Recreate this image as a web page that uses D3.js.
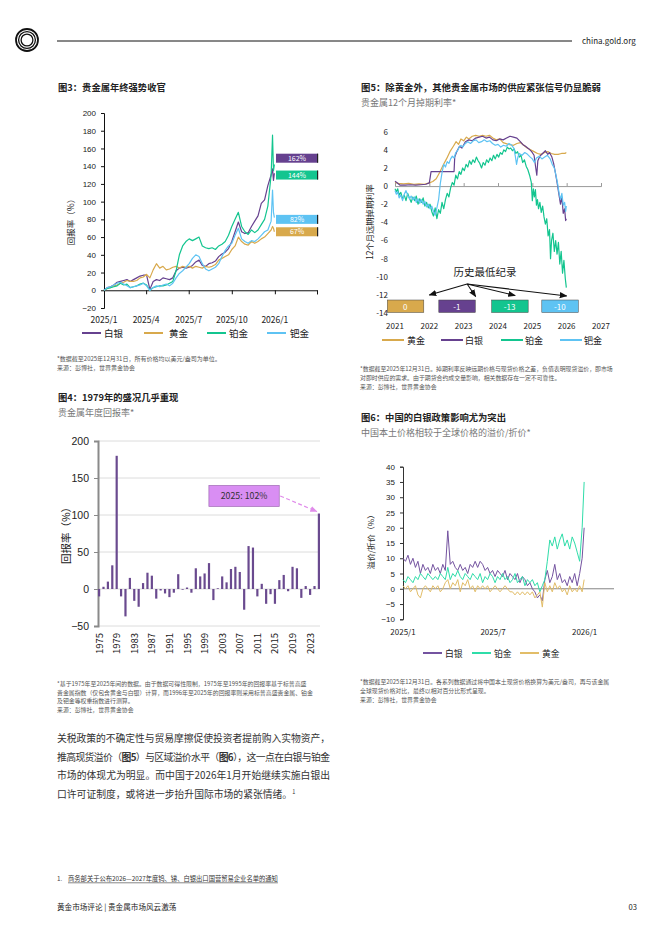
<!DOCTYPE html>
<html><head><meta charset="utf-8">
<script src="https://cdn.jsdelivr.net/npm/d3@7"></script>
<style>body{margin:0;background:#fff}svg{display:block;font-family:"Noto Sans CJK SC","Noto Sans",sans-serif}</style>
</head><body>
<svg id="page" width="662" height="936"></svg>
<script>
// ---------------- DATA ----------------
// Fig3: YTD returns (%), day offsets from 2025-01-01
const f3Days = [0,7,14,21,28,35,42,49,56,63,70,77,84,91,98,105,112,119,126,133,140,147,154,161,168,175,182,189,196,203,210,217,224,231,238,245,252,259,266,273,280,287,294,301,308,315,322,329,336,343,350,357,360,362,364];
const f3Silver = [0,3,4,6,9,10,11,12,10,12,14,16,17,17,1,10,12,11,14,13,12,14,22,25,26,25,26,28,32,34,28,27,30,31,33,38,41,43,47,55,66,77,66,64,65,72,78,84,98,102,118,130,137,124,132];
const f3Gold = [0,2,3,5,6,8,9,11,10,10,11,14,15,18,14,23,30,25,27,23,24,26,27,25,27,26,27,25,27,26,25,27,26,27,29,34,36,38,40,46,50,60,55,52,51,55,53,55,58,60,64,68,72,70,66];
const f3Plat = [0,2,3,4,5,8,6,7,3,4,5,7,8,6,0,3,4,5,5,6,8,10,22,40,50,55,58,56,58,60,50,48,47,48,46,50,52,55,62,72,80,88,72,66,63,68,65,68,74,80,95,130,175,135,142];
const f3Pall = [0,3,4,6,8,9,7,5,3,4,5,6,8,5,0,3,5,4,6,7,5,8,14,19,22,26,30,36,40,38,30,24,22,24,26,30,38,45,50,53,62,70,58,55,53,56,55,58,62,66,68,78,113,88,82];
const f3Names = ["白银","黄金","铂金","钯金"];
const f3XTicks = ["2025/1","2025/4","2025/7","2025/10","2026/1"];
const f3EndLabels = ["162%","144%","82%","67%"];
const f3LabelAt = [149,130,80,66];

// Fig4: annual returns 1975-2025 (%)
const f4Years = d3.range(1975, 2026);
const f4Returns = [-10,3,10,32,180,-10,-37,15,-16,-24,8,22,18,-13,-2,-6,-11,-5,20,-1,2,-5,28,17,21,35,-15,1,17,9,27,30,23,-28,58,56,-10,7,-20,-7,-20,12,19,-3,30,28,-12,4,-8,4,102];

// Fig5: 12-month swap rates, [year, value]
const f5Gold = [[2021.0,0.4],[2021.1,0.3],[2021.25,0.25],[2021.4,0.3],[2021.55,0.2],[2021.7,0.25],[2021.85,0.2],[2022.0,0.35],[2022.1,0.5],[2022.2,0.8],[2022.3,1.5],[2022.4,2.3],[2022.5,3.0],[2022.6,3.8],[2022.7,4.4],[2022.78,4.9],[2022.85,4.6],[2022.92,5.2],[2023.0,5.0],[2023.08,5.4],[2023.15,5.2],[2023.25,5.5],[2023.35,5.6],[2023.45,5.5],[2023.55,5.6],[2023.65,5.5],[2023.75,5.6],[2023.85,5.3],[2023.95,5.1],[2024.05,5.2],[2024.15,4.8],[2024.3,4.6],[2024.45,4.5],[2024.55,4.7],[2024.65,4.8],[2024.75,4.5],[2024.85,4.2],[2024.95,4.0],[2025.05,3.8],[2025.15,3.6],[2025.25,3.5],[2025.35,3.7],[2025.45,3.8],[2025.55,3.6],[2025.65,3.5],[2025.75,3.5],[2025.85,3.6],[2025.95,3.6],[2025.99,3.7]];
const f5Silver = [[2021.0,0.55],[2021.05,0.4],[2021.15,0.1],[2021.3,0.1],[2021.45,0.15],[2021.6,0.1],[2021.75,0.15],[2021.9,0.2],[2022.0,0.35],[2022.05,1.6],[2022.3,1.6],[2022.5,1.6],[2022.72,1.6],[2022.74,3.2],[2022.8,3.8],[2022.88,4.4],[2022.95,4.2],[2023.05,4.9],[2023.15,5.1],[2023.25,5.0],[2023.35,5.3],[2023.45,5.4],[2023.55,5.5],[2023.65,5.3],[2023.75,5.4],[2023.85,5.1],[2023.95,5.0],[2024.05,5.2],[2024.15,5.1],[2024.25,5.3],[2024.35,5.5],[2024.45,5.4],[2024.55,5.3],[2024.65,4.9],[2024.72,4.6],[2024.8,4.4],[2024.9,4.1],[2024.98,3.8],[2025.05,3.4],[2025.1,2.0],[2025.13,1.2],[2025.16,2.8],[2025.22,3.3],[2025.3,3.6],[2025.38,3.9],[2025.45,3.5],[2025.5,3.7],[2025.57,3.2],[2025.62,2.5],[2025.67,1.5],[2025.72,0.4],[2025.77,-0.8],[2025.82,-2.0],[2025.86,-1.2],[2025.9,-3.0],[2025.94,-2.5],[2025.97,-3.8],[2025.99,-3.6]];
const f5Plat = [[2021.0,-0.3],[2021.04,-0.6],[2021.08,-0.3],[2021.12,-1.0],[2021.17,-0.7],[2021.22,-1.4],[2021.27,-1.0],[2021.32,-1.6],[2021.37,-0.8],[2021.42,-1.3],[2021.47,-1.8],[2021.52,-1.2],[2021.57,-1.6],[2021.62,-1.1],[2021.67,-2.0],[2021.72,-1.4],[2021.77,-1.8],[2021.82,-1.3],[2021.87,-2.2],[2021.92,-1.8],[2021.97,-2.4],[2022.02,-2.0],[2022.07,-2.8],[2022.12,-3.3],[2022.17,-2.4],[2022.22,-3.6],[2022.27,-2.6],[2022.32,-3.0],[2022.37,-1.8],[2022.42,-2.5],[2022.47,-1.5],[2022.52,-0.8],[2022.57,-1.2],[2022.62,-0.2],[2022.67,0.4],[2022.72,0.1],[2022.77,1.2],[2022.82,0.8],[2022.87,1.6],[2022.92,1.3],[2022.97,2.0],[2023.02,1.7],[2023.07,2.4],[2023.12,2.1],[2023.17,2.8],[2023.22,2.4],[2023.27,2.9],[2023.32,2.6],[2023.37,3.2],[2023.42,2.8],[2023.47,2.5],[2023.52,2.0],[2023.57,2.6],[2023.62,2.3],[2023.67,2.9],[2023.72,2.6],[2023.77,3.1],[2023.82,2.8],[2023.87,3.4],[2023.92,3.0],[2023.97,3.5],[2024.02,3.2],[2024.07,3.7],[2024.12,3.5],[2024.17,4.0],[2024.22,3.8],[2024.27,4.3],[2024.32,4.1],[2024.37,4.2],[2024.42,3.9],[2024.47,4.1],[2024.52,3.6],[2024.57,3.8],[2024.62,3.2],[2024.67,3.4],[2024.72,2.6],[2024.77,2.9],[2024.82,2.2],[2024.87,1.8],[2024.92,1.2],[2024.97,0.4],[2025.0,-1.6],[2025.03,-0.3],[2025.06,-1.2],[2025.09,-0.4],[2025.12,-2.1],[2025.15,-1.5],[2025.18,-2.5],[2025.22,-1.8],[2025.26,-2.9],[2025.3,-2.2],[2025.34,-3.4],[2025.38,-4.2],[2025.42,-3.6],[2025.46,-5.5],[2025.5,-4.8],[2025.53,-8.0],[2025.56,-6.0],[2025.6,-5.2],[2025.64,-7.2],[2025.68,-6.0],[2025.72,-7.5],[2025.76,-6.2],[2025.8,-8.6],[2025.84,-7.2],[2025.88,-9.6],[2025.92,-8.2],[2025.96,-10.2],[2025.99,-11.2]];
const f5Pall = [[2021.0,-0.5],[2021.04,-0.9],[2021.08,-0.6],[2021.12,-1.3],[2021.17,-1.0],[2021.22,-1.6],[2021.27,-0.9],[2021.32,-0.5],[2021.37,-1.0],[2021.42,-1.4],[2021.47,-1.1],[2021.52,-1.5],[2021.57,-1.2],[2021.62,-1.8],[2021.67,-1.4],[2021.72,-1.9],[2021.77,-1.5],[2021.82,-2.0],[2021.87,-1.7],[2021.92,-2.3],[2021.97,-2.0],[2022.02,-2.5],[2022.07,-2.2],[2022.12,-2.8],[2022.17,-3.2],[2022.22,-2.4],[2022.27,-1.5],[2022.32,0.3],[2022.37,1.5],[2022.42,2.4],[2022.47,2.1],[2022.52,2.7],[2022.57,2.5],[2022.62,3.0],[2022.67,3.3],[2022.72,3.1],[2022.77,3.7],[2022.82,3.9],[2022.87,4.3],[2022.92,4.5],[2022.97,4.3],[2023.05,4.7],[2023.12,4.9],[2023.2,4.7],[2023.28,5.0],[2023.36,5.1],[2023.44,4.8],[2023.52,4.9],[2023.6,5.1],[2023.68,4.9],[2023.76,5.0],[2023.84,4.7],[2023.92,4.5],[2024.0,4.6],[2024.08,4.3],[2024.16,4.5],[2024.24,4.4],[2024.32,4.7],[2024.4,4.5],[2024.46,4.2],[2024.5,3.4],[2024.54,2.4],[2024.58,3.2],[2024.62,3.6],[2024.7,3.4],[2024.78,3.7],[2024.86,3.5],[2024.94,3.2],[2025.0,3.0],[2025.06,2.6],[2025.12,3.1],[2025.2,3.3],[2025.28,3.0],[2025.36,3.2],[2025.44,3.4],[2025.52,3.0],[2025.58,2.4],[2025.64,2.0],[2025.7,1.0],[2025.74,0.2],[2025.78,-0.8],[2025.82,-1.5],[2025.86,-0.8],[2025.9,-2.1],[2025.94,-1.8],[2025.97,-2.8],[2025.99,-2.2]];
const f5Names = ["黄金","白银","铂金","钯金"];
const f5Years = [2021,2022,2023,2024,2025,2026,2027];
const f5Records = ["0","-1","-13","-10"];

// Fig6: China premium/discount (%), every 5 days from 2025-01-01
const f6Days = d3.range(0, 366, 5);
const f6Silver = [10,9,11,8,10,7,9,5,8,6,7,5,8,6,7,5,8,6,19,8,9,7,6,8,6,7,5,8,7,9,7,9,8,6,7,5,6,4,6,5,4,6,3,5,4,3,5,2,4,3,1,2,0,-1,-3,-2,-4,3,6,2,4,8,3,5,2,3,1,4,2,5,1,5,10,20];
const f6Plat = [3,2,4,3,2,4,3,5,4,3,5,4,3,4,3,5,4,3,7,3,5,4,6,4,3,5,4,3,5,4,3,5,2,4,3,5,4,2,4,3,5,3,4,2,3,5,2,3,4,1,3,2,3,1,2,-1,1,3,9,16,14,17,13,16,18,14,16,13,17,15,12,9,20,35];
const f6Gold = [1,0,1,-1,0,1,-2,-3,0,1,0,-1,1,0,1,-1,0,2,3,0,2,1,3,-1,2,1,3,0,1,-1,1,0,1,0,1,-1,0,1,0,-1,0,1,0,-1,-1,-2,-1,-2,-1,-2,-1,-2,-1,-3,-2,-1,-6,2,-1,1,-1,2,0,1,-1,0,-2,1,-1,0,-1,1,-1,3];
const f6Names = ["白银","铂金","黄金"];
const f6XTicks = ["2025/1","2025/7","2026/1"];

// ---------------- STYLE ----------------
const C = {silver:"#66418F", gold:"#D8A94C", plat:"#13C58F", pall:"#5EC3F3"};
const svg = d3.select("#page");
const dark = "#222", grey = "#777";
function txt(x, y, s, o = {}) {
  const t = svg.append("text").attr("x", x).attr("y", y).text(s)
    .attr("font-size", o.size || 8).attr("fill", o.fill || dark)
    .attr("text-anchor", o.anchor || "start");
  if (o.weight) t.attr("font-weight", o.weight);
  if (o.rotate) t.attr("transform", `rotate(${o.rotate},${x},${y})`);
  return t;
}
svg.append("defs").html(`
 <marker id="ah" viewBox="0 0 10 10" refX="9" refY="5" markerWidth="7" markerHeight="7" orient="auto-start-reverse"><path d="M0,1 L10,5 L0,9 z" fill="#111"/></marker>
 <marker id="ahp" viewBox="0 0 10 10" refX="9" refY="5" markerWidth="6" markerHeight="6" orient="auto"><path d="M0,1 L10,5 L0,9 z" fill="#E08BEA"/></marker>`);

// ---------------- HEADER ----------------
[11, 8.4, 5.9].forEach((r, i) => svg.append("circle").attr("cx", 27).attr("cy", 40).attr("r", r)
  .attr("fill", "none").attr("stroke", "#111").attr("stroke-width", i === 0 ? 1.8 : 1.3));
svg.append("line").attr("x1", 57).attr("x2", 572).attr("y1", 41).attr("y2", 41).attr("stroke", "#111").attr("stroke-width", 1);
txt(582, 44, "china.gold.org", {size: 8});

// ---------------- FIG 3 ----------------
txt(58, 91, "图3：贵金属年终强势收官", {size: 9.3, weight: "bold"});
const d0 = new Date(2025, 0, 1);
const f3x = d3.scaleTime().domain([d0, new Date(2026, 3, 1)]).range([104, 317]);
const f3y = d3.scaleLinear().domain([-20, 200]).range([308, 113]);
const g3y = svg.append("g").attr("transform", "translate(104,0)")
  .call(d3.axisLeft(f3y).tickValues(d3.range(-20, 201, 20)).tickSize(3).tickPadding(5));
g3y.selectAll("text").attr("font-size", 8).attr("fill", dark).attr("font-family", "inherit");
g3y.selectAll("path,line").attr("stroke", "#111");
const f3Months = [0, 3, 6, 9, 12, 15].map(m => new Date(2025, m, 1));
const g3x = svg.append("g").attr("transform", `translate(0,${f3y(0)})`)
  .call(d3.axisBottom(f3x).tickValues(f3Months).tickSize(4).tickFormat(""));
g3x.selectAll("path,line").attr("stroke", "#111");
f3XTicks.forEach((s, i) => txt(f3x(f3Months[i]), 323, s, {size: 8.5, anchor: "middle"}));
txt(74, 220, "回报率（%）", {size: 8.5, anchor: "middle", rotate: -90});
const line3 = d3.line().x((d, i) => f3x(d3.timeDay.offset(d0, f3Days[i]))).y(d => f3y(d));
[[f3Silver, C.silver], [f3Gold, C.gold], [f3Plat, C.plat], [f3Pall, C.pall]].forEach(([s, c]) =>
  svg.append("path").attr("d", line3(s)).attr("fill", "none").attr("stroke", c).attr("stroke-width", 1.2).attr("stroke-linejoin", "round"));
[C.silver, C.plat, C.pall, C.gold].forEach((c, i) => {
  const yc = f3y(f3LabelAt[i]);
  svg.append("rect").attr("x", 276).attr("y", yc - 4.5).attr("width", 42).attr("height", 9).attr("fill", c);
  svg.append("rect").attr("x", 317).attr("y", yc - 4.5).attr("width", 1.2).attr("height", 9).attr("fill", "#222");
  txt(297, yc + 2.7, f3EndLabels[i], {size: 7, anchor: "middle", fill: "#fff"});
});
const leg3 = [[82, 104], [144, 169], [207, 229], [267, 290]];
[C.silver, C.gold, C.plat, C.pall].forEach((c, i) => {
  svg.append("line").attr("x1", leg3[i][0]).attr("x2", leg3[i][0] + 19).attr("y1", 333).attr("y2", 333).attr("stroke", c).attr("stroke-width", 2);
  txt(leg3[i][1], 336.5, f3Names[i], {size: 9.5});
});
txt(57, 361, "*数据截至2025年12月31日，所有价格均以美元/盎司为单位。", {size: 6, fill: "#555"});
txt(57, 370, "来源：彭博社，世界黄金协会", {size: 6, fill: "#555"});

// ---------------- FIG 4 ----------------
txt(58, 401, "图4：1979年的盛况几乎重现", {size: 9.3, weight: "bold"});
txt(58, 416, "贵金属年度回报率*", {size: 9, fill: grey});
const f4x = d3.scaleBand().domain(f4Years).range([98, 320]).paddingInner(0.5);
const f4y = d3.scaleLinear().domain([-50, 200]).range([626, 441]);
svg.append("g").selectAll("line").data(d3.range(-50, 201, 50)).join("line")
  .attr("x1", 98).attr("x2", 320).attr("y1", d => f4y(d)).attr("y2", d => f4y(d))
  .attr("stroke", "#dcdcdc").attr("stroke-width", 1);
const g4y = svg.append("g").attr("transform", "translate(98,0)")
  .call(d3.axisLeft(f4y).tickValues(d3.range(-50, 201, 50)).tickSize(4).tickPadding(5));
g4y.selectAll("path").attr("stroke", "#8a8a8a").attr("stroke-width", 2);
g4y.selectAll("line").attr("stroke", "#8a8a8a");
g4y.selectAll("text").attr("font-size", 10.5).attr("fill", dark).attr("font-family", "inherit");
svg.append("g").selectAll("rect").data(f4Returns).join("rect")
  .attr("x", (d, i) => f4x(f4Years[i])).attr("width", f4x.bandwidth())
  .attr("y", d => f4y(Math.max(0, d))).attr("height", d => Math.abs(f4y(d) - f4y(0)))
  .attr("fill", "#6A4A8F");
f4Years.filter((y, i) => i % 4 === 0).forEach(y =>
  txt(f4x(y) + f4x.bandwidth() / 2 + 3.5, 633, String(y), {size: 9.5, anchor: "end", rotate: -90}));
txt(70, 533, "回报率（%）", {size: 10.5, anchor: "middle", rotate: -90});
{
  const bx0 = f4x(2000) + 1, bx1 = f4x(2016) + 1, by0 = f4y(140), by1 = f4y(111.5);
  svg.append("rect").attr("x", bx0).attr("y", by0).attr("width", bx1 - bx0).attr("height", by1 - by0)
    .attr("fill", "#D98EF3").attr("stroke", "#A06DB5").attr("stroke-width", 0.7);
  txt((bx0 + bx1) / 2, (by0 + by1) / 2 + 3, "2025: " + f4Returns[50] + "%", {size: 8.8, anchor: "middle", fill: "#333"});
  svg.append("line").attr("x1", bx1 + 1).attr("y1", (by0 + by1) / 2)
    .attr("x2", f4x(2025) - 1).attr("y2", f4y(f4Returns[50]) - 2)
    .attr("stroke", "#E08BEA").attr("stroke-width", 1.2).attr("stroke-dasharray", "4,2.5").attr("marker-end", "url(#ahp)");
}
txt(57, 685.5, "*基于1975年至2025年间的数据。由于数据可得性限制，1975年至1995年的回报率基于标普高盛", {size: 5.9, fill: "#555"});
txt(57, 694.5, "贵金属指数（仅包含黄金与白银）计算，而1996年至2025年的回报率则采用标普高盛贵金属、铂金", {size: 5.9, fill: "#555"});
txt(57, 703, "及钯金等权重指数进行测算。", {size: 5.9, fill: "#555"});
txt(57, 711.5, "来源：彭博社，世界黄金协会", {size: 5.9, fill: "#555"});

// ---------------- FIG 5 ----------------
txt(361, 91, "图5：除黄金外，其他贵金属市场的供应紧张信号仍显脆弱", {size: 9.4, weight: "bold"});
txt(361, 106, "贵金属12个月掉期利率*", {size: 9, fill: grey});
const f5x = d3.scaleLinear().domain([2021, 2027]).range([395, 601]);
const f5y = d3.scaleLinear().domain([-14, 6]).range([313, 131.7]);
d3.range(-14, 7, 2).forEach(v => txt(388, f5y(v) + 3, String(v), {size: 8, anchor: "end"}));
const g5x = svg.append("g").attr("transform", `translate(0,${f5y(0)})`)
  .call(d3.axisTop(f5x).tickValues(f5Years).tickSize(3).tickFormat(""));
g5x.selectAll("path,line").attr("stroke", "#999");
f5Years.forEach(y => txt(f5x(y), 329, String(y), {size: 8, anchor: "middle"}));
txt(373, 222, "12个月远期掉期利率", {size: 8.3, anchor: "middle", rotate: -90});
const line5 = d3.line().x(d => f5x(d[0])).y(d => f5y(d[1]));
[[f5Gold, C.gold], [f5Silver, C.silver], [f5Plat, C.plat], [f5Pall, C.pall]].forEach(([s, c]) =>
  svg.append("path").attr("d", line5(s)).attr("fill", "none").attr("stroke", c).attr("stroke-width", 1.2).attr("stroke-linejoin", "round"));
txt(485, 276, "历史最低纪录", {size: 10.5, anchor: "middle"});
const recX = [2021.3, 2022.8, 2024.34, 2025.8];
[[2022.0, 295], [2023.35, 296.5], [2024.5, 295.5], [2026.0, 296]].forEach(([yr, yy]) =>
  svg.append("line").attr("x1", f5x(2023.1)).attr("y1", 284).attr("x2", f5x(yr)).attr("y2", yy)
    .attr("stroke", "#111").attr("stroke-width", 1.1).attr("marker-end", "url(#ah)"));
[C.gold, C.silver, C.plat, C.pall].forEach((c, i) => {
  const cx = f5x(recX[i]);
  svg.append("rect").attr("x", cx - 18).attr("y", 300).attr("width", 36.5).attr("height", 12.5)
    .attr("fill", c).attr("stroke", "#444").attr("stroke-width", 0.5);
  txt(cx, 309.5, f5Records[i], {size: 8, anchor: "middle", fill: "#fff"});
});
const leg5 = [[382, 407], [441, 465], [501, 525], [560, 584]];
[C.gold, C.silver, C.plat, C.pall].forEach((c, i) => {
  svg.append("line").attr("x1", leg5[i][0]).attr("x2", leg5[i][0] + 22).attr("y1", 340).attr("y2", 340).attr("stroke", c).attr("stroke-width", 2);
  txt(leg5[i][1], 343.5, f5Names[i], {size: 9});
});
txt(360, 370.5, "*数据截至2025年12月31日。掉期利率反映远期价格与现货价格之差，负值表明现货溢价，即市场", {size: 5.9, fill: "#555"});
txt(360, 379.5, "对即时供应的需求。由于期货合约成交量影响，相关数据存在一定不可靠性。", {size: 5.9, fill: "#555"});
txt(360, 388.5, "来源：彭博社，世界黄金协会", {size: 5.9, fill: "#555"});

// ---------------- FIG 6 ----------------
txt(361, 421, "图6：中国的白银政策影响尤为突出", {size: 9.3, weight: "bold"});
txt(361, 436, "中国本土价格相较于全球价格的溢价/折价*", {size: 9, fill: grey});
const f6x = d3.scaleTime().domain([d0, new Date(2026, 2, 1)]).range([403, 614]);
const f6y = d3.scaleLinear().domain([-10, 40]).range([619.3, 466.7]);
const g6y = svg.append("g").attr("transform", "translate(403,0)")
  .call(d3.axisLeft(f6y).tickValues(d3.range(-10, 41, 5)).tickSize(3).tickPadding(5));
g6y.selectAll("path,line").attr("stroke", "#333");
g6y.selectAll("text").attr("font-size", 8).attr("fill", dark).attr("font-family", "inherit");
svg.append("line").attr("x1", 403).attr("x2", 614).attr("y1", f6y(0)).attr("y2", f6y(0)).attr("stroke", "#666").attr("stroke-width", 0.8);
[d0, new Date(2025, 6, 1), new Date(2026, 0, 1)].forEach((d, i) => txt(f6x(d), 635, f6XTicks[i], {size: 8, anchor: "middle"}));
txt(374, 540, "溢价/折价（%）", {size: 8, anchor: "middle", rotate: -90});
const line6 = d3.line().x((d, i) => f6x(d3.timeDay.offset(d0, Math.min(f6Days[i], 364)))).y(d => f6y(d));
[[f6Silver, "#7453A0"], [f6Plat, "#2FDDA9"], [f6Gold, "#E2BD68"]].forEach(([s, c]) =>
  svg.append("path").attr("d", line6(s)).attr("fill", "none").attr("stroke", c).attr("stroke-width", 1).attr("stroke-linejoin", "round"));
const leg6 = [[423, 445], [472, 494], [520, 542]];
["#7453A0", "#2FDDA9", "#E2BD68"].forEach((c, i) => {
  svg.append("line").attr("x1", leg6[i][0]).attr("x2", leg6[i][0] + 19).attr("y1", 653).attr("y2", 653).attr("stroke", c).attr("stroke-width", 2);
  txt(leg6[i][1], 656.5, f6Names[i], {size: 8.8});
});
txt(360, 684, "*数据截至2025年12月31日。各系列数据通过将中国本土现货价格换算为美元/盎司，再与该金属", {size: 5.9, fill: "#555"});
txt(360, 693, "全球现货价格对比，最终以相对百分比形式呈现。", {size: 5.9, fill: "#555"});
txt(360, 701.5, "来源：彭博社，世界黄金协会", {size: 5.9, fill: "#555"});

// ---------------- BODY TEXT ----------------
function bodyLine(y, parts, justify) {
  const t = svg.append("text").attr("x", 57).attr("y", y).attr("font-size", 9.8).attr("fill", "#333");
  parts.forEach(([s, b]) => { const sp = t.append("tspan").text(s); if (b) sp.attr("font-weight", "bold"); });
  if (justify) t.attr("textLength", 273).attr("lengthAdjust", "spacing");
  return t;
}
bodyLine(742, [["关税政策的不确定性与贸易摩擦促使投资者提前购入实物资产，"]], true);
bodyLine(760.5, [["推高现货溢价（"], ["图5", 1], ["）与区域溢价水平（"], ["图6", 1], ["），这一点在白银与铂金"]], true);
bodyLine(779, [["市场的体现尤为明显。而中国于2026年1月开始继续实施白银出"]], true);
const l4 = bodyLine(797.5, [["口许可证制度，或将进一步抬升国际市场的紧张情绪。"]], false);
l4.append("tspan").attr("font-size", 5.5).attr("dy", -4).text("1");

// ---------------- FOOTNOTE / FOOTER ----------------
txt(57, 881, "1.", {size: 6.3, fill: "#444"});
const fn = txt(68, 881, "商务部关于公布2026—2027年度钨、锑、白银出口国营贸易企业名单的通知", {size: 6.3, fill: "#333"});
const fnw = fn.node().getComputedTextLength();
svg.append("line").attr("x1", 68).attr("x2", 68 + fnw).attr("y1", 882.8).attr("y2", 882.8).attr("stroke", "#333").attr("stroke-width", 0.6);
txt(57, 910, "黄金市场评论 | 贵金属市场风云激荡", {size: 7.6});
txt(637, 910, "03", {size: 7.6, anchor: "end"});
</script>
</body></html>
